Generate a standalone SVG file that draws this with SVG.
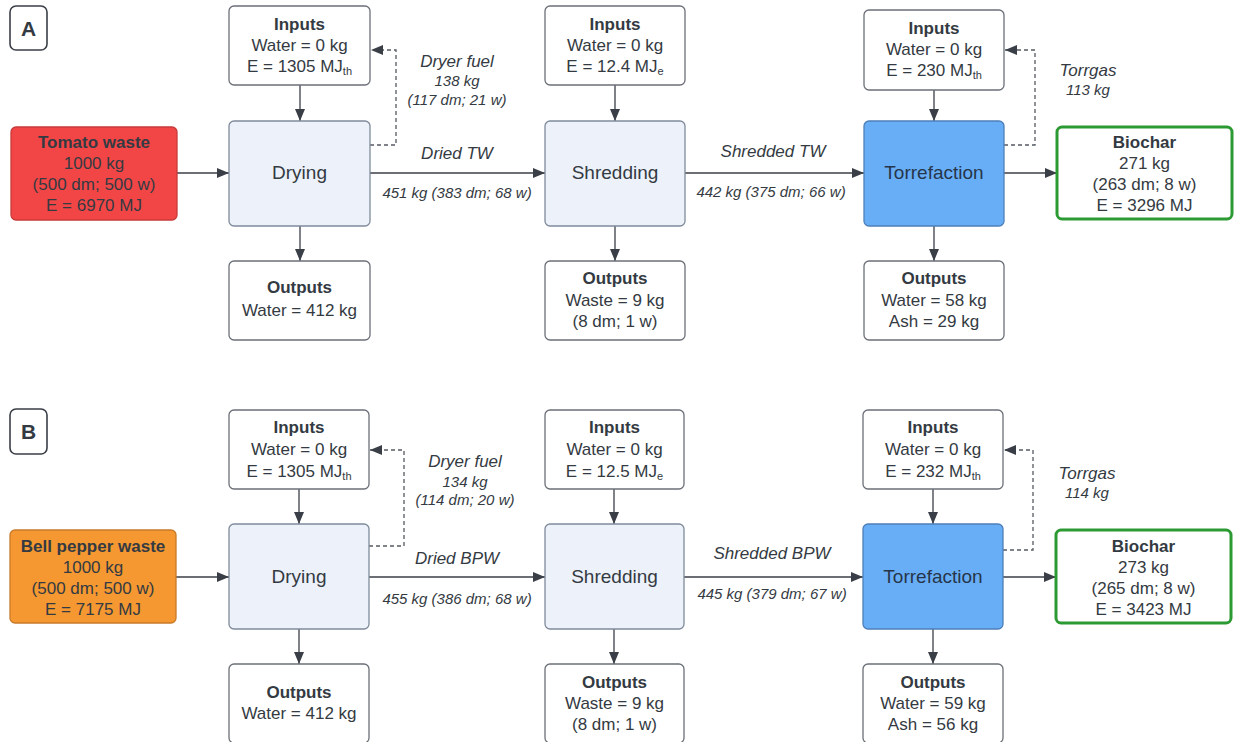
<svg xmlns="http://www.w3.org/2000/svg" width="1235" height="742" viewBox="0 0 1235 742">
<defs>
<style>
text{font-family:"Liberation Sans",Arial,sans-serif;fill:#343a42;text-anchor:middle}
.t{font-size:17px}
.b{font-size:17px;font-weight:bold}
.p{font-size:19px}
.pt{font-size:19px;fill:#26364a}
.i{font-size:17px;font-style:italic}
.is{font-size:15px;font-style:italic}
.sub{font-size:11px}
.lbl{font-size:21px;font-weight:bold}
.box{fill:#ffffff;stroke:#6b7078;stroke-width:1.3}
.proc{fill:#edf2fa;stroke:#7f8a9a;stroke-width:1.3}
.torr{fill:#68aef7;stroke:#4d7fb8;stroke-width:1.3}
.tom{fill:#f24646;stroke:#c73a3a;stroke-width:1.3}
.bell{fill:#f59831;stroke:#c87a2a;stroke-width:1.3}
.bio{fill:#ffffff;stroke:#2c9a33;stroke-width:3}
.tag{fill:#ffffff;stroke:#3a3f47;stroke-width:1.6}
.c{fill:none;stroke:#3a3f47;stroke-width:1.3}
.d{fill:none;stroke:#555b63;stroke-width:1.3;stroke-dasharray:4 3}
</style>
<marker id="ah" viewBox="0 0 12 10" refX="12" refY="5" markerWidth="12" markerHeight="10" markerUnits="userSpaceOnUse" orient="auto">
<path d="M0,0 L12,5 L0,10 Z" fill="#3a3f47"/>
</marker>
</defs>
<rect width="1235" height="742" fill="#ffffff"/>

<g id="connectors">
<path class="c" d="M177 173 H229" marker-end="url(#ah)"/>
<path class="c" d="M300 85 V121" marker-end="url(#ah)"/>
<path class="c" d="M300 226 V261" marker-end="url(#ah)"/>
<path class="c" d="M370 173 H545" marker-end="url(#ah)"/>
<path class="c" d="M615 85 V121" marker-end="url(#ah)"/>
<path class="c" d="M615 226 V261" marker-end="url(#ah)"/>
<path class="c" d="M685 173 H864" marker-end="url(#ah)"/>
<path class="c" d="M934 90 V121" marker-end="url(#ah)"/>
<path class="c" d="M934 226 V261" marker-end="url(#ah)"/>
<path class="c" d="M1004 173 H1057" marker-end="url(#ah)"/>
<path class="d" d="M370 145 H396 V50 H371" marker-end="url(#ah)"/>
<path class="d" d="M1004 145 H1035 V50 H1005" marker-end="url(#ah)"/>

<path class="c" d="M176 577 H229" marker-end="url(#ah)"/>
<path class="c" d="M299 489 V524" marker-end="url(#ah)"/>
<path class="c" d="M299 629 V664" marker-end="url(#ah)"/>
<path class="c" d="M369 577 H545" marker-end="url(#ah)"/>
<path class="c" d="M614 489 V524" marker-end="url(#ah)"/>
<path class="c" d="M614 629 V664" marker-end="url(#ah)"/>
<path class="c" d="M684 577 H863" marker-end="url(#ah)"/>
<path class="c" d="M933 489 V524" marker-end="url(#ah)"/>
<path class="c" d="M933 629 V664" marker-end="url(#ah)"/>
<path class="c" d="M1003 577 H1056" marker-end="url(#ah)"/>
<path class="d" d="M369 546 H404 V450 H370" marker-end="url(#ah)"/>
<path class="d" d="M1003 550 H1033 V450 H1004" marker-end="url(#ah)"/>
</g>

<g id="edge-labels">
<text class="i" x="457" y="67">Dryer fuel</text>
<text class="is" x="457" y="86">138 kg</text>
<text class="is" x="457" y="105">(117 dm; 21 w)</text>
<text class="i" x="457" y="159">Dried TW</text>
<text class="is" x="457" y="198">451 kg (383 dm; 68 w)</text>
<text class="i" x="773" y="157">Shredded TW</text>
<text class="is" x="771" y="197">442 kg (375 dm; 66 w)</text>
<text class="i" x="1088" y="76">Torrgas</text>
<text class="is" x="1088" y="95">113 kg</text>

<text class="i" x="465" y="467">Dryer fuel</text>
<text class="is" x="465" y="487">134 kg</text>
<text class="is" x="465" y="505">(114 dm; 20 w)</text>
<text class="i" x="457" y="564">Dried BPW</text>
<text class="is" x="457" y="604">455 kg (386 dm; 68 w)</text>
<text class="i" x="772" y="559">Shredded BPW</text>
<text class="is" x="772" y="599">445 kg (379 dm; 67 w)</text>
<text class="i" x="1087" y="479">Torrgas</text>
<text class="is" x="1087" y="498">114 kg</text>
</g>

<g id="label-A">
<rect class="tag" x="10" y="6" width="37" height="44" rx="6"/>
<text class="lbl" x="28.5" y="36">A</text>
</g>
<g id="A-tomato">
<rect class="tom" x="11" y="127" width="166" height="93" rx="5"/>
<text class="b" x="94" y="148">Tomato waste</text>
<text class="t" x="94" y="169">1000 kg</text>
<text class="t" x="94" y="190">(500 dm; 500 w)</text>
<text class="t" x="94" y="211">E = 6970 MJ</text>
</g>
<g id="A-inputs1">
<rect class="box" x="229" y="6" width="141" height="79" rx="5"/>
<text class="b" x="299.5" y="30">Inputs</text>
<text class="t" x="299.5" y="51">Water = 0 kg</text>
<text class="t" x="299.5" y="72">E = 1305 MJ<tspan class="sub" dy="3">th</tspan></text>
</g>
<g id="A-drying">
<rect class="proc" x="229" y="121" width="141" height="105" rx="5"/>
<text class="p" x="299.5" y="179">Drying</text>
</g>
<g id="A-outputs1">
<rect class="box" x="229" y="261" width="141" height="79" rx="5"/>
<text class="b" x="299.5" y="293">Outputs</text>
<text class="t" x="299.5" y="316">Water = 412 kg</text>
</g>
<g id="A-inputs2">
<rect class="box" x="545" y="6" width="140" height="79" rx="5"/>
<text class="b" x="615" y="30">Inputs</text>
<text class="t" x="615" y="51">Water = 0 kg</text>
<text class="t" x="615" y="72">E = 12.4 MJ<tspan class="sub" dy="3">e</tspan></text>
</g>
<g id="A-shredding">
<rect class="proc" x="545" y="121" width="140" height="105" rx="5"/>
<text class="p" x="615" y="179">Shredding</text>
</g>
<g id="A-outputs2">
<rect class="box" x="545" y="261" width="140" height="79" rx="5"/>
<text class="b" x="615" y="284">Outputs</text>
<text class="t" x="615" y="306">Waste = 9 kg</text>
<text class="t" x="615" y="327">(8 dm; 1 w)</text>
</g>
<g id="A-inputs3">
<rect class="box" x="864" y="10" width="140" height="80" rx="5"/>
<text class="b" x="934" y="34">Inputs</text>
<text class="t" x="934" y="55">Water = 0 kg</text>
<text class="t" x="934" y="76">E = 230 MJ<tspan class="sub" dy="3">th</tspan></text>
</g>
<g id="A-torrefaction">
<rect class="torr" x="864" y="121" width="140" height="105" rx="5"/>
<text class="pt" x="934" y="179">Torrefaction</text>
</g>
<g id="A-outputs3">
<rect class="box" x="864" y="261" width="140" height="79" rx="5"/>
<text class="b" x="934" y="284">Outputs</text>
<text class="t" x="934" y="306">Water = 58 kg</text>
<text class="t" x="934" y="327">Ash = 29 kg</text>
</g>
<g id="A-biochar">
<rect class="bio" x="1057" y="127" width="175" height="92" rx="5"/>
<text class="b" x="1144.5" y="148">Biochar</text>
<text class="t" x="1144.5" y="169">271 kg</text>
<text class="t" x="1144.5" y="190">(263 dm; 8 w)</text>
<text class="t" x="1144.5" y="211">E = 3296 MJ</text>
</g>

<g id="label-B">
<rect class="tag" x="10" y="409" width="37" height="45" rx="6"/>
<text class="lbl" x="28.5" y="439">B</text>
</g>
<g id="B-bellpepper">
<rect class="bell" x="10" y="530" width="166" height="93" rx="5"/>
<text class="b" x="93" y="552">Bell pepper waste</text>
<text class="t" x="93" y="573">1000 kg</text>
<text class="t" x="93" y="594">(500 dm; 500 w)</text>
<text class="t" x="93" y="615">E = 7175 MJ</text>
</g>
<g id="B-inputs1">
<rect class="box" x="229" y="410" width="140" height="79" rx="5"/>
<text class="b" x="299" y="433">Inputs</text>
<text class="t" x="299" y="455">Water = 0 kg</text>
<text class="t" x="299" y="477">E = 1305 MJ<tspan class="sub" dy="3">th</tspan></text>
</g>
<g id="B-drying">
<rect class="proc" x="229" y="524" width="140" height="105" rx="5"/>
<text class="p" x="299" y="583">Drying</text>
</g>
<g id="B-outputs1">
<rect class="box" x="229" y="664" width="140" height="79" rx="5"/>
<text class="b" x="299" y="698">Outputs</text>
<text class="t" x="299" y="719">Water = 412 kg</text>
</g>
<g id="B-inputs2">
<rect class="box" x="545" y="410" width="139" height="79" rx="5"/>
<text class="b" x="614.5" y="433">Inputs</text>
<text class="t" x="614.5" y="455">Water = 0 kg</text>
<text class="t" x="614.5" y="477">E = 12.5 MJ<tspan class="sub" dy="3">e</tspan></text>
</g>
<g id="B-shredding">
<rect class="proc" x="545" y="524" width="139" height="105" rx="5"/>
<text class="p" x="614.5" y="583">Shredding</text>
</g>
<g id="B-outputs2">
<rect class="box" x="545" y="664" width="139" height="79" rx="5"/>
<text class="b" x="614.5" y="688">Outputs</text>
<text class="t" x="614.5" y="709">Waste = 9 kg</text>
<text class="t" x="614.5" y="730">(8 dm; 1 w)</text>
</g>
<g id="B-inputs3">
<rect class="box" x="863" y="410" width="140" height="79" rx="5"/>
<text class="b" x="933" y="433">Inputs</text>
<text class="t" x="933" y="455">Water = 0 kg</text>
<text class="t" x="933" y="477">E = 232 MJ<tspan class="sub" dy="3">th</tspan></text>
</g>
<g id="B-torrefaction">
<rect class="torr" x="863" y="524" width="140" height="105" rx="5"/>
<text class="pt" x="933" y="583">Torrefaction</text>
</g>
<g id="B-outputs3">
<rect class="box" x="863" y="664" width="140" height="79" rx="5"/>
<text class="b" x="933" y="688">Outputs</text>
<text class="t" x="933" y="709">Water = 59 kg</text>
<text class="t" x="933" y="730">Ash = 56 kg</text>
</g>
<g id="B-biochar">
<rect class="bio" x="1056" y="530" width="175" height="93" rx="5"/>
<text class="b" x="1143.5" y="552">Biochar</text>
<text class="t" x="1143.5" y="573">273 kg</text>
<text class="t" x="1143.5" y="594">(265 dm; 8 w)</text>
<text class="t" x="1143.5" y="615">E = 3423 MJ</text>
</g>
</svg>
